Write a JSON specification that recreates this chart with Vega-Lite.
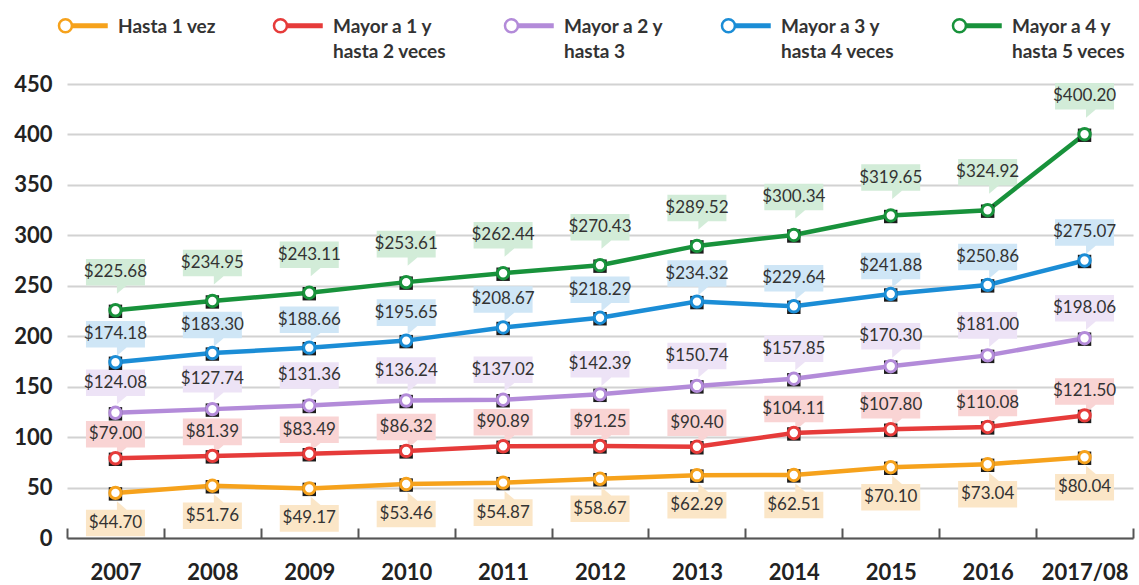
{
  "$schema": "https://vega.github.io/schema/vega-lite/v6.json",
  "width": 1066,
  "height": 454,
  "autosize": "none",
  "padding": {"left": 67, "top": 84, "right": 6, "bottom": 47},
  "background": "white",
  "config": {
    "view": {"stroke": null},
    "font": "Lato",
    "legend": {"padding": 0}
  },
  "data": {
    "values": [
      {"year": "2007", "serie": "Hasta 1 vez", "value": 44.70},
      {"year": "2008", "serie": "Hasta 1 vez", "value": 51.76},
      {"year": "2009", "serie": "Hasta 1 vez", "value": 49.17},
      {"year": "2010", "serie": "Hasta 1 vez", "value": 53.46},
      {"year": "2011", "serie": "Hasta 1 vez", "value": 54.87},
      {"year": "2012", "serie": "Hasta 1 vez", "value": 58.67},
      {"year": "2013", "serie": "Hasta 1 vez", "value": 62.29},
      {"year": "2014", "serie": "Hasta 1 vez", "value": 62.51},
      {"year": "2015", "serie": "Hasta 1 vez", "value": 70.10},
      {"year": "2016", "serie": "Hasta 1 vez", "value": 73.04},
      {"year": "2017/08", "serie": "Hasta 1 vez", "value": 80.04},
      {"year": "2007", "serie": "Mayor a 1 y hasta 2 veces", "value": 79.00},
      {"year": "2008", "serie": "Mayor a 1 y hasta 2 veces", "value": 81.39},
      {"year": "2009", "serie": "Mayor a 1 y hasta 2 veces", "value": 83.49},
      {"year": "2010", "serie": "Mayor a 1 y hasta 2 veces", "value": 86.32},
      {"year": "2011", "serie": "Mayor a 1 y hasta 2 veces", "value": 90.89},
      {"year": "2012", "serie": "Mayor a 1 y hasta 2 veces", "value": 91.25},
      {"year": "2013", "serie": "Mayor a 1 y hasta 2 veces", "value": 90.40},
      {"year": "2014", "serie": "Mayor a 1 y hasta 2 veces", "value": 104.11},
      {"year": "2015", "serie": "Mayor a 1 y hasta 2 veces", "value": 107.80},
      {"year": "2016", "serie": "Mayor a 1 y hasta 2 veces", "value": 110.08},
      {"year": "2017/08", "serie": "Mayor a 1 y hasta 2 veces", "value": 121.50},
      {"year": "2007", "serie": "Mayor a 2 y hasta 3", "value": 124.08},
      {"year": "2008", "serie": "Mayor a 2 y hasta 3", "value": 127.74},
      {"year": "2009", "serie": "Mayor a 2 y hasta 3", "value": 131.36},
      {"year": "2010", "serie": "Mayor a 2 y hasta 3", "value": 136.24},
      {"year": "2011", "serie": "Mayor a 2 y hasta 3", "value": 137.02},
      {"year": "2012", "serie": "Mayor a 2 y hasta 3", "value": 142.39},
      {"year": "2013", "serie": "Mayor a 2 y hasta 3", "value": 150.74},
      {"year": "2014", "serie": "Mayor a 2 y hasta 3", "value": 157.85},
      {"year": "2015", "serie": "Mayor a 2 y hasta 3", "value": 170.30},
      {"year": "2016", "serie": "Mayor a 2 y hasta 3", "value": 181.00},
      {"year": "2017/08", "serie": "Mayor a 2 y hasta 3", "value": 198.06},
      {"year": "2007", "serie": "Mayor a 3 y hasta 4 veces", "value": 174.18},
      {"year": "2008", "serie": "Mayor a 3 y hasta 4 veces", "value": 183.30},
      {"year": "2009", "serie": "Mayor a 3 y hasta 4 veces", "value": 188.66},
      {"year": "2010", "serie": "Mayor a 3 y hasta 4 veces", "value": 195.65},
      {"year": "2011", "serie": "Mayor a 3 y hasta 4 veces", "value": 208.67},
      {"year": "2012", "serie": "Mayor a 3 y hasta 4 veces", "value": 218.29},
      {"year": "2013", "serie": "Mayor a 3 y hasta 4 veces", "value": 234.32},
      {"year": "2014", "serie": "Mayor a 3 y hasta 4 veces", "value": 229.64},
      {"year": "2015", "serie": "Mayor a 3 y hasta 4 veces", "value": 241.88},
      {"year": "2016", "serie": "Mayor a 3 y hasta 4 veces", "value": 250.86},
      {"year": "2017/08", "serie": "Mayor a 3 y hasta 4 veces", "value": 275.07},
      {"year": "2007", "serie": "Mayor a 4 y hasta 5 veces", "value": 225.68},
      {"year": "2008", "serie": "Mayor a 4 y hasta 5 veces", "value": 234.95},
      {"year": "2009", "serie": "Mayor a 4 y hasta 5 veces", "value": 243.11},
      {"year": "2010", "serie": "Mayor a 4 y hasta 5 veces", "value": 253.61},
      {"year": "2011", "serie": "Mayor a 4 y hasta 5 veces", "value": 262.44},
      {"year": "2012", "serie": "Mayor a 4 y hasta 5 veces", "value": 270.43},
      {"year": "2013", "serie": "Mayor a 4 y hasta 5 veces", "value": 289.52},
      {"year": "2014", "serie": "Mayor a 4 y hasta 5 veces", "value": 300.34},
      {"year": "2015", "serie": "Mayor a 4 y hasta 5 veces", "value": 319.65},
      {"year": "2016", "serie": "Mayor a 4 y hasta 5 veces", "value": 324.92},
      {"year": "2017/08", "serie": "Mayor a 4 y hasta 5 veces", "value": 400.20}
    ]
  },
  "encoding": {
    "x": {
      "field": "year",
      "type": "ordinal",
      "sort": ["2007", "2008", "2009", "2010", "2011", "2012", "2013", "2014", "2015", "2016", "2017/08"],
      "scale": {"type": "band", "paddingInner": 0, "paddingOuter": 0},
      "axis": {
        "title": null,
        "labelAngle": 0,
        "labelFont": "Lato",
        "labelFontSize": 22,
        "labelFontWeight": "bold",
        "labelColor": "#222",
        "labelBaseline": "middle",
        "domainColor": "#555",
        "domainWidth": 2,
        "tickColor": "#555",
        "tickWidth": 2,
        "tickSize": -10,
        "tickBand": "extent",
        "labelPadding": 44,
        "grid": false
      }
    },
    "y": {
      "field": "value",
      "type": "quantitative",
      "scale": {"domain": [0, 450], "nice": false},
      "axis": {
        "title": null,
        "values": [0, 50, 100, 150, 200, 250, 300, 350, 400, 450],
        "grid": true,
        "gridColor": "#d2d2d2",
        "gridWidth": 2,
        "domain": false,
        "ticks": false,
        "labelFont": "Lato",
        "labelFontSize": 22,
        "labelFontWeight": "bold",
        "labelColor": "#222",
        "labelPadding": 15
      }
    }
  },
  "layer": [
    {
      "transform": [{"filter": "datum.serie == 'Mayor a 4 y hasta 5 veces'"}],
      "mark": {"type": "point", "shape": "M-1,-0.45 L1,-0.45 L1,0.45 L0.38,0.45 L0.05,0.73 L0.05,0.45 L-1,0.45 Z", "size": 3481, "filled": true, "fill": "#d2ecd8", "strokeWidth": 0, "opacity": 1, "yOffset": -38}
    },
    {
      "transform": [{"filter": "datum.serie == 'Mayor a 3 y hasta 4 veces'"}],
      "mark": {"type": "point", "shape": "M-1,-0.45 L1,-0.45 L1,0.45 L0.38,0.45 L0.05,0.73 L0.05,0.45 L-1,0.45 Z", "size": 3481, "filled": true, "fill": "#cfe6f6", "strokeWidth": 0, "opacity": 1, "yOffset": -28}
    },
    {
      "transform": [{"filter": "datum.serie == 'Mayor a 2 y hasta 3'"}],
      "mark": {"type": "point", "shape": "M-1,-0.45 L1,-0.45 L1,0.45 L0.38,0.45 L0.05,0.73 L0.05,0.45 L-1,0.45 Z", "size": 3481, "filled": true, "fill": "#ede3f6", "strokeWidth": 0, "opacity": 1, "yOffset": -30}
    },
    {
      "transform": [{"filter": "datum.serie == 'Mayor a 1 y hasta 2 veces'"}],
      "mark": {"type": "point", "shape": "M-1,-0.45 L1,-0.45 L1,0.45 L0.38,0.45 L0.05,0.73 L0.05,0.45 L-1,0.45 Z", "size": 3481, "filled": true, "fill": "#f9d4d4", "strokeWidth": 0, "opacity": 1, "yOffset": -24}
    },
    {
      "transform": [{"filter": "datum.serie == 'Hasta 1 vez'"}],
      "mark": {"type": "point", "shape": "M-1,-0.45 L0.05,-0.45 L0.05,-0.73 L0.38,-0.45 L1,-0.45 L1,0.45 L-1,0.45 Z", "size": 3481, "filled": true, "fill": "#fbe6c7", "strokeWidth": 0, "opacity": 1, "yOffset": 30}
    },
    {
      "mark": {"type": "line", "strokeWidth": 4.5},
      "encoding": {
        "stroke": {
          "field": "serie",
          "type": "nominal",
          "scale": {
            "domain": ["Hasta 1 vez", "Mayor a 1 y hasta 2 veces", "Mayor a 2 y hasta 3", "Mayor a 3 y hasta 4 veces", "Mayor a 4 y hasta 5 veces"],
            "range": ["#f6a21c", "#e63b3a", "#b38bd9", "#1b8dd6", "#18923b"]
          },
          "legend": {
            "orient": "none",
            "legendX": -10,
            "legendY": -84,
            "direction": "horizontal",
            "title": null,
            "symbolType": "M-0.98,0 A0.27,0.27 0 1,1 -0.44,0 A0.27,0.27 0 1,1 -0.98,0 Z M-0.44,-0.05 L1,-0.05 L1,0.05 L-0.44,0.05 Z",
            "symbolSize": 2304,
            "symbolStrokeWidth": 2.5,
            "symbolFillColor": "white",
            "labelFont": "Lato",
            "labelFontSize": 19,
            "labelFontWeight": "bold",
            "labelColor": "#333",
            "labelOffset": 10,
            "labelLimit": 0,
            "columnPadding": 52,
            "labelBaseline": "top",
            "labelExpr": "datum.label == 'Hasta 1 vez' ? ['Hasta 1 vez', ' '] : split(replace(datum.label, ' y hasta', ' y|hasta'), '|')",
            "encode": {
              "symbols": {"update": {"fill": {"value": "white"}, "strokeWidth": {"value": 2.5}}},
              "labels": {"update": {"dy": {"value": -8}, "lineHeight": {"value": 25}}}
            }
          }
        }
      }
    },
    {
      "mark": {"type": "point", "shape": "square", "filled": true, "color": "#1c1c1c", "size": 180, "opacity": 1, "yOffset": 1}
    },
    {
      "mark": {"type": "point", "shape": "circle", "filled": true, "fill": "white", "size": 130, "strokeWidth": 3, "opacity": 1},
      "encoding": {
        "stroke": {"field": "serie", "type": "nominal"}
      }
    },
    {
      "transform": [{"filter": "datum.serie == 'Mayor a 4 y hasta 5 veces'"}],
      "mark": {"type": "text", "dy": -38, "font": "Lato", "fontSize": 17, "color": "#333", "baseline": "middle"},
      "encoding": {"text": {"field": "value", "type": "quantitative", "format": "$.2f"}}
    },
    {
      "transform": [{"filter": "datum.serie == 'Mayor a 3 y hasta 4 veces'"}],
      "mark": {"type": "text", "dy": -28, "font": "Lato", "fontSize": 17, "color": "#333", "baseline": "middle"},
      "encoding": {"text": {"field": "value", "type": "quantitative", "format": "$.2f"}}
    },
    {
      "transform": [{"filter": "datum.serie == 'Mayor a 2 y hasta 3'"}],
      "mark": {"type": "text", "dy": -30, "font": "Lato", "fontSize": 17, "color": "#333", "baseline": "middle"},
      "encoding": {"text": {"field": "value", "type": "quantitative", "format": "$.2f"}}
    },
    {
      "transform": [{"filter": "datum.serie == 'Mayor a 1 y hasta 2 veces'"}],
      "mark": {"type": "text", "dy": -24, "font": "Lato", "fontSize": 17, "color": "#333", "baseline": "middle"},
      "encoding": {"text": {"field": "value", "type": "quantitative", "format": "$.2f"}}
    },
    {
      "transform": [{"filter": "datum.serie == 'Hasta 1 vez'"}],
      "mark": {"type": "text", "dy": 30, "font": "Lato", "fontSize": 17, "color": "#333", "baseline": "middle"},
      "encoding": {"text": {"field": "value", "type": "quantitative", "format": "$.2f"}}
    }
  ]
}
